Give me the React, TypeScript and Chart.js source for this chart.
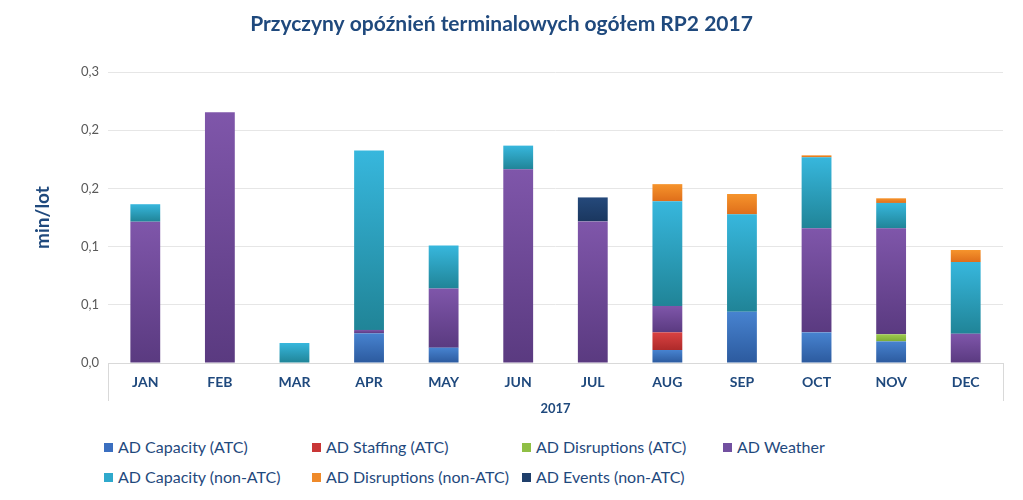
import React, { useEffect, useRef } from "react";
import { Chart, registerables } from "chart.js";

Chart.register(...registerables);

const months = ["JAN", "FEB", "MAR", "APR", "MAY", "JUN", "JUL", "AUG", "SEP", "OCT", "NOV", "DEC"];
const yTickLabels = ["0,0", "0,1", "0,1", "0,2", "0,2", "0,3"];

const capacityATC = [0, 0, 0, 0.0306, 0.0158, 0, 0, 0.0134, 0.0529, 0.0316, 0.0223, 0];
const staffingATC = [0, 0, 0, 0, 0, 0, 0, 0.0182, 0, 0, 0, 0];
const disruptionsATC = [0, 0, 0, 0, 0, 0, 0, 0, 0, 0, 0.0073, 0];
const weather = [0.1457, 0.2585, 0, 0.0035, 0.061, 0.1997, 0.146, 0.0272, 0, 0.1072, 0.1092, 0.0302];
const capacityNonATC = [0.018, 0, 0.0206, 0.185, 0.0443, 0.0244, 0, 0.108, 0.1004, 0.0733, 0.0262, 0.0739];
const disruptionsNonATC = [0, 0, 0, 0, 0, 0, 0, 0.0176, 0.0209, 0.002, 0.0048, 0.0124];
const eventsNonATC = [0, 0, 0, 0, 0, 0, 0.0247, 0, 0, 0, 0, 0];

const seriesNames = [
  "AD Capacity (ATC)",
  "AD Staffing (ATC)",
  "AD Disruptions (ATC)",
  "AD Weather",
  "AD Capacity (non-ATC)",
  "AD Disruptions (non-ATC)",
  "AD Events (non-ATC)",
];
const seriesValues = [capacityATC, staffingATC, disruptionsATC, weather, capacityNonATC, disruptionsNonATC, eventsNonATC];
const seriesTop = ["#4783d0", "#da4242", "#9fcc4e", "#7f56aa", "#37b7dd", "#f6942c", "#25497b"];
const seriesBottom = ["#2c5a9e", "#ae2a2a", "#7cab36", "#5a3a80", "#208497", "#df6e1a", "#1a375f"];
const seriesLegend = ["#3b6fc0", "#c93636", "#8fbf45", "#7250a0", "#2fa9cc", "#ef8a2a", "#1f3f6b"];

const legendLayout = [
  { x: 104, y: 447 },
  { x: 312, y: 447 },
  { x: 522, y: 447 },
  { x: 723, y: 447 },
  { x: 104, y: 477 },
  { x: 312, y: 477 },
  { x: 522, y: 477 },
];

const TEXT_BLUE = "#1f497d";
const FONT = "Lato, 'Open Sans', sans-serif";

export default function App() {
  const canvasRef = useRef<HTMLCanvasElement | null>(null);

  useEffect(() => {
    document.body.style.margin = "0";
    const canvas = canvasRef.current;
    if (!canvas) return;

    const gradientFor = (i: number) => (c: any) => {
      const chart = c.chart;
      const yScale = chart.scales && chart.scales.y;
      if (!chart.chartArea || !yScale || c.dataIndex == null) return seriesTop[i];
      const idx = c.dataIndex;
      let start = 0;
      for (let k = 0; k < i; k++) start += seriesValues[k][idx] || 0;
      const end = start + (seriesValues[i][idx] || 0);
      const yTop = yScale.getPixelForValue(end);
      const yBot = yScale.getPixelForValue(start);
      if (!isFinite(yTop) || !isFinite(yBot) || yTop === yBot) return seriesTop[i];
      const g = chart.ctx.createLinearGradient(0, yTop, 0, yBot);
      g.addColorStop(0, seriesTop[i]);
      g.addColorStop(1, seriesBottom[i]);
      return g;
    };

    const axisBox = {
      id: "axisBox",
      afterDraw(chart: any) {
        const { ctx, chartArea } = chart;
        ctx.save();
        ctx.strokeStyle = "#d9d9d9";
        ctx.lineWidth = 1;
        ctx.beginPath();
        const l = Math.round(chartArea.left) + 0.5;
        const r = Math.round(chartArea.right) + 0.5;
        const b = Math.round(chartArea.bottom);
        ctx.moveTo(l, b);
        ctx.lineTo(l, b + 38);
        ctx.moveTo(r, b);
        ctx.lineTo(r, b + 38);
        ctx.stroke();
        ctx.restore();
      },
    };

    const chart = new Chart(canvas, {
      type: "bar",
      data: {
        labels: months,
        datasets: seriesNames.map((name, i) => ({
          label: name,
          data: seriesValues[i],
          backgroundColor: gradientFor(i),
          borderWidth: 0,
          barPercentage: 0.8,
          categoryPercentage: 0.5,
        })),
      },
      options: {
        animation: false,
        responsive: false,
        maintainAspectRatio: false,
        layout: { padding: { top: 0, right: 20, bottom: 0, left: 0 } },
        plugins: {
          legend: { display: false },
          tooltip: { enabled: false },
          title: {
            display: true,
            text: "Przyczyny opóźnień terminalowych ogółem RP2 2017",
            color: TEXT_BLUE,
            font: { family: FONT, size: 21, weight: "bold", lineHeight: 1.2 },
            padding: { top: 12, bottom: 34.8 },
          },
        },
        scales: {
          x: {
            stacked: true,
            grid: { display: false, drawTicks: false },
            border: { display: true, color: "#d9d9d9" },
            ticks: {
              color: TEXT_BLUE,
              font: { family: FONT, size: 14, weight: "bold" },
              padding: 11,
            },
            title: {
              display: true,
              text: "2017",
              color: TEXT_BLUE,
              font: { family: FONT, size: 13, weight: "bold", lineHeight: 1.2 },
              padding: { top: 0, bottom: 13 },
            },
            afterFit(scale: any) {
              scale.height = 67;
            },
          },
          y: {
            stacked: true,
            min: 0,
            max: 0.3,
            grid: { color: "#e6e6e6", drawTicks: false },
            border: { display: false },
            ticks: {
              stepSize: 0.06,
              color: "#595959",
              font: { family: FONT, size: 13 },
              padding: 9,
              callback: (_v: any, index: number) => yTickLabels[index],
            },
            title: {
              display: true,
              text: "min/lot",
              color: TEXT_BLUE,
              font: { family: FONT, size: 19, weight: "bold", lineHeight: 1.2 },
              padding: { top: 31, bottom: 0 },
            },
            afterFit(scale: any) {
              scale.width = 108;
            },
          },
        },
      },
      plugins: [axisBox],
    });

    return () => chart.destroy();
  }, []);

  return (
    <div style={{ position: "relative", width: 1023, height: 500, background: "#fff", fontFamily: FONT }}>
      <canvas ref={canvasRef} width={1023} height={430} style={{ display: "block" }} />
      {seriesNames.map((name, i) => (
        <div
          key={name}
          style={{
            position: "absolute",
            left: legendLayout[i].x,
            top: legendLayout[i].y - 10,
            height: 20,
            display: "flex",
            alignItems: "center",
            whiteSpace: "nowrap",
            color: TEXT_BLUE,
            fontSize: 16,
            lineHeight: "20px",
          }}
        >
          <span style={{ display: "inline-block", width: 9, height: 9, background: seriesLegend[i], marginRight: 5 }} />
          <span>{name}</span>
        </div>
      ))}
    </div>
  );
}
